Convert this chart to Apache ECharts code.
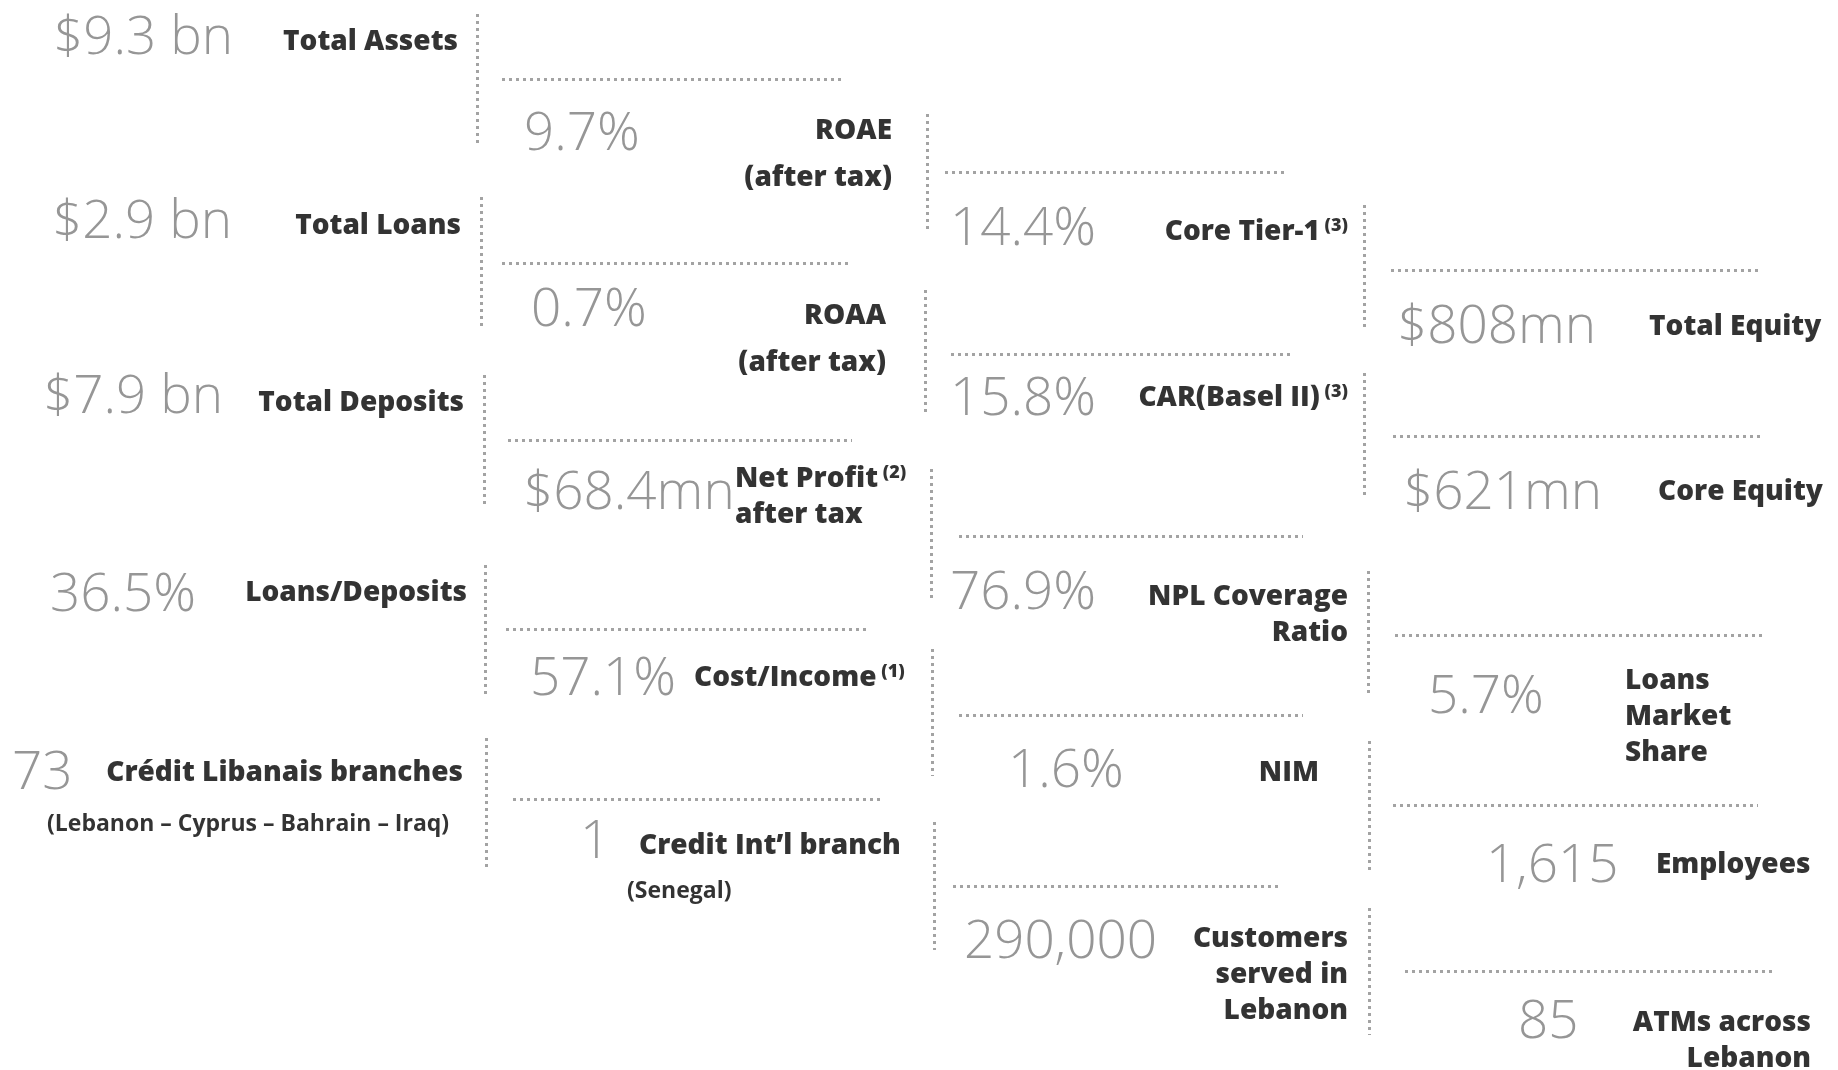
<!DOCTYPE html>
<html>
<head>
<meta charset="utf-8">
<title>Key figures</title>
<script src="https://cdn.jsdelivr.net/npm/echarts@6/dist/echarts.min.js"></script>
<style>
  html, body { margin: 0; padding: 0; background: #fff; }
  #main { width: 1838px; height: 1070px; }
</style>
</head>
<body>
<div id="main"></div>
<script>
// key figures (big gray numbers)
const kpiValues = ['$9.3 bn', '$2.9 bn', '$7.9 bn', '36.5%', '73',
  '9.7%', '0.7%', '$68.4mn', '57.1%', '1',
  '14.4%', '15.8%', '76.9%', '1.6%', '290,000',
  '$808mn', '$621mn', '5.7%', '1,615', '85'];
// what each figure is
const kpiNames = ['Total Assets', 'Total Loans', 'Total Deposits', 'Loans/Deposits', 'Crédit Libanais branches',
  'ROAE\n(after tax)', 'ROAA\n(after tax)', 'Net Profit\nafter tax', 'Cost/Income', 'Credit Int\u2019l branch',
  'Core Tier-1', 'CAR(Basel II)', 'NPL Coverage\nRatio', 'NIM', 'Customers\nserved in\nLebanon',
  'Total Equity', 'Core Equity', 'Loans\nMarket\nShare', 'Employees', 'ATMs across\nLebanon'];
// footnote marks
const kpiNotes = ['', '', '', '', '',
  '', '', '(2)', '(1)', '',
  '(3)', '(3)', '', '', '',
  '', '', '', '', ''];
// small lines under some names
const kpiSubs = ['', '', '', '', '(Lebanon \u2013 Cyprus \u2013 Bahrain \u2013 Iraq)',
  '', '', '', '', '(Senegal)',
  '', '', '', '', '',
  '', '', '', '', ''];

// ---- layout (page pixels) ----
const valuePos = [[53, 40], [52, 224], [43, 399], [50, 597], [12, 775],
  [524, 136], [531, 312], [523, 495], [530, 681], [580, 844],
  [950, 231], [950, 401], [950, 595], [1008, 773], [964, 944],
  [1397, 329], [1403, 495], [1428, 699], [1486, 868], [1518, 1024]];
// x, y, align, line height
const namePos = [[458, 42, 'right', 36], [461, 226, 'right', 36], [464, 403, 'right', 36], [467, 593, 'right', 36], [463, 773, 'right', 36],
  [892, 155, 'right', 47], [886, 340, 'right', 47], [735, 497, 'left', 36], [694, 678, 'left', 36], [639, 846, 'left', 36],
  [1348, 232, 'right', 36], [1348, 398, 'right', 36], [1348, 615, 'right', 36], [1319, 773, 'right', 36], [1348, 975, 'right', 36],
  [1649, 327, 'left', 36], [1658, 492, 'left', 36], [1625, 717, 'left', 36], [1656, 865, 'left', 36], [1811, 1041, 'right', 36]];
const subPos = {4: [47, 824], 9: [627, 891]};

// dotted dividers: vertical [x, y1, y2], horizontal [y, x1, x2]
const vLines = [[477, 14, 143], [481, 197, 326], [484, 375, 504], [485, 565, 694], [486, 738, 867],
  [927, 114, 231], [925, 290, 416], [931, 469, 598], [932, 649, 776], [934, 822, 950],
  [1364, 205, 331], [1364, 373, 498], [1368, 571, 697], [1369, 741, 873], [1369, 908, 1035]];
const hLines = [[79, 502, 844], [263, 502, 848], [440, 508, 852], [629, 506, 867], [799, 513, 881],
  [172, 945, 1287], [354, 951, 1294], [536, 959, 1303], [715, 959, 1303], [886, 953, 1278],
  [270, 1391, 1758], [436, 1393, 1761], [635, 1395, 1764], [805, 1393, 1758], [971, 1405, 1772]];

const GRAY = '#7c7c7c';
const DOT = '#a3a3a3';
const LIGHT = "'Open Sans Light', 'Open Sans', 'Noto Sans', sans-serif";
const BOLD = "'Open Sans', 'Noto Sans', sans-serif";

let chart = null;

function nameLabel(i) {
  const lines = kpiNames[i].split('\n');
  return lines.map((l, k) => {
    let s = '{b|' + l + '}';
    if (k === 0 && kpiNotes[i]) s += '{s| ' + kpiNotes[i] + '}';
    return s;
  }).join('\n');
}

function getOption() {
  const valueData = kpiValues.map((v, i) => ({
    value: valuePos[i],
    name: v
  }));

  const nameData = kpiNames.map((n, i) => {
    const p = namePos[i];
    return {
      value: [p[0], p[1]],
      label: {
        align: p[2],
        formatter: nameLabel(i),
        rich: {
          b: { fontFamily: BOLD, fontWeight: 800, fontSize: 28, lineHeight: p[3], color: '#000' },
          s: { fontFamily: BOLD, fontWeight: 800, fontSize: 18, lineHeight: p[3], verticalAlign: 'top', padding: [3, 0, 0, 0], color: '#000' }
        }
      }
    };
  });

  const subData = [];
  kpiSubs.forEach((s, i) => {
    if (s) subData.push({ value: subPos[i], name: s });
  });

  const lineData = [];
  vLines.forEach(l => lineData.push({ coords: [[l[0], l[1]], [l[0], l[2]]] }));
  hLines.forEach(l => lineData.push({ coords: [[l[1], l[0]], [l[2], l[0]]] }));

  return {
    backgroundColor: '#fff',
    animation: false,
    grid: { left: 0, right: 0, top: 0, bottom: 0 },
    xAxis: { type: 'value', min: 0, max: 1838, show: false },
    yAxis: { type: 'value', min: 0, max: 1070, inverse: true, show: false },
    series: [
      {
        type: 'lines',
        coordinateSystem: 'cartesian2d',
        silent: true,
        lineStyle: { color: DOT, width: 3, type: [3, 4], opacity: 1 },
        data: lineData
      },
      {
        type: 'scatter',
        symbolSize: 0,
        silent: true,
        label: {
          show: true,
          position: 'inside',
          align: 'left',
          verticalAlign: 'middle',
          formatter: p => p.name,
          fontFamily: LIGHT,
          fontWeight: 300,
          fontSize: 53,
          color: GRAY
        },
        data: valueData
      },
      {
        type: 'scatter',
        symbolSize: 0,
        silent: true,
        label: {
          show: true,
          position: 'inside',
          verticalAlign: 'middle'
        },
        data: nameData
      },
      {
        type: 'scatter',
        symbolSize: 0,
        silent: true,
        label: {
          show: true,
          position: 'inside',
          align: 'left',
          verticalAlign: 'middle',
          formatter: p => p.name,
          fontFamily: BOLD,
          fontWeight: 'bold',
          fontSize: 23,
          color: '#000'
        },
        data: subData
      }
    ]
  };
}

chart = echarts.init(document.getElementById('main'), null, { renderer: 'canvas' });
chart.setOption(getOption());
</script>
</body>
</html>
